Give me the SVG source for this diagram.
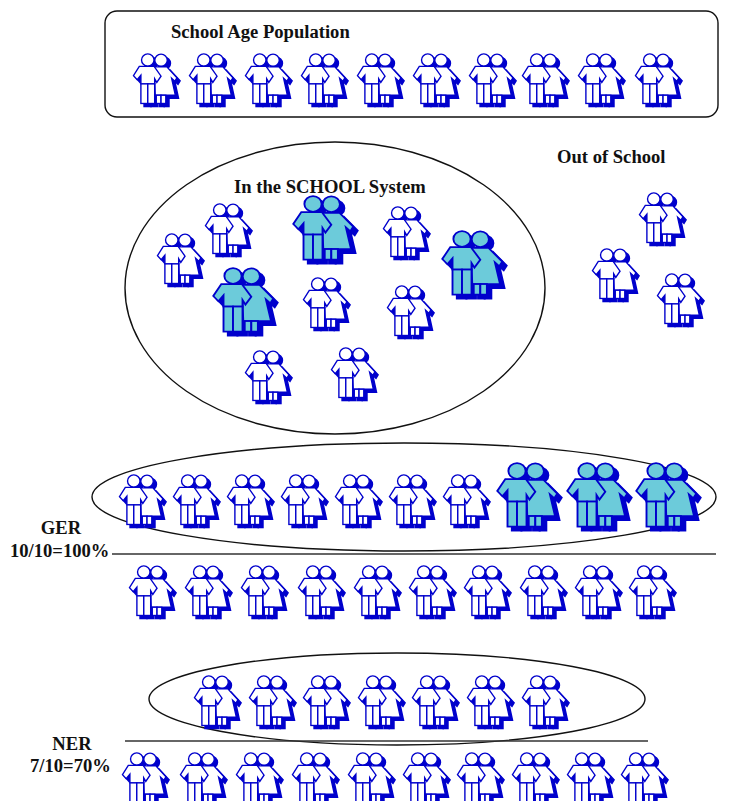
<svg xmlns="http://www.w3.org/2000/svg" xmlns:xlink="http://www.w3.org/1999/xlink" width="736" height="801" viewBox="0 0 736 801">
  <style>
    .lbl { font-family: "Liberation Serif", "Times New Roman", serif; font-weight: bold; font-size: 18.6px; fill: #111; }
    .frame { fill: none; stroke: #111; stroke-width: 1.4; }
    .rule { stroke: #333; stroke-width: 1.6; }
    .sh { fill: #0000cc; stroke: #0000cc; stroke-width: 1.4; }
    .w { fill: #ffffff; stroke: #0000cc; stroke-width: 1.3; }
    .c { fill: #6ccbda; stroke: #0000cc; stroke-width: 1.3; }
  </style>
  <defs>
    <!-- couple pictogram: girl behind, boy in front -->
    <g id="fig">
      <circle cx="25.5" cy="7" r="5.9"/>
      <path d="M19,13.5 L31,13.5 L40.5,24 L38.5,27.5 L35.5,24.5 L39,41 L20,41 Z"/>
      <rect x="21" y="41" width="4.5" height="8"/>
      <rect x="25.5" y="41" width="4.5" height="8"/>
      <circle cx="13" cy="6.8" r="5.9"/>
      <path d="M5,13 L19,13 L25.5,22.5 L21.5,28.5 L19.5,25 L19.5,30 L6.5,30 L6.5,21.5 L3,26 L-0.5,22 Z"/>
      <rect x="6.5" y="30" width="6.5" height="19"/>
      <rect x="13" y="30" width="6.5" height="19"/>
    </g>
    <g id="pw" transform="scale(1.06,1.03)">
      <use xlink:href="#fig" href="#fig" class="sh" transform="translate(3,3)"/>
      <use xlink:href="#fig" href="#fig" class="w"/>
    </g>
    <g id="pc" transform="scale(1.06,1.03)">
      <use xlink:href="#fig" href="#fig" class="sh" transform="translate(3,3)"/>
      <use xlink:href="#fig" href="#fig" class="c"/>
    </g>
  </defs>

  <!-- whole school-age population -->
  <g id="population">
    <rect class="frame" x="105" y="11" width="613" height="106" rx="12"/>
    <text class="lbl" x="171" y="38">School Age Population</text>
    <use href="#pw" x="134" y="53"/>
    <use href="#pw" x="190" y="53"/>
    <use href="#pw" x="246" y="53"/>
    <use href="#pw" x="302" y="53"/>
    <use href="#pw" x="358" y="53"/>
    <use href="#pw" x="414" y="53"/>
    <use href="#pw" x="470" y="53"/>
    <use href="#pw" x="523" y="53"/>
    <use href="#pw" x="579" y="53"/>
    <use href="#pw" x="636" y="53"/>
  </g>

  <!-- children enrolled -->
  <g id="in-school">
    <ellipse class="frame" cx="335" cy="288" rx="210" ry="146"/>
    <text class="lbl" x="234" y="193">In the SCHOOL System</text>
    <use href="#pw" x="158" y="233"/>
    <use href="#pw" x="206" y="203"/>
    <use href="#pw" x="384" y="206"/>
    <use href="#pw" x="304" y="277"/>
    <use href="#pw" x="388" y="285"/>
    <use href="#pw" x="246" y="350"/>
    <use href="#pw" x="332" y="347"/>
    <use href="#pc" transform="translate(294,195) scale(1.38,1.28)"/>
    <use href="#pc" transform="translate(443,230) scale(1.38,1.28)"/>
    <use href="#pc" transform="translate(214,267) scale(1.38,1.28)"/>
  </g>

  <!-- children not enrolled -->
  <g id="out-of-school">
    <text class="lbl" x="557" y="163">Out of School</text>
    <use href="#pw" x="640" y="192"/>
    <use href="#pw" x="593" y="248"/>
    <use href="#pw" x="658" y="273"/>
  </g>

  <!-- gross enrolment ratio -->
  <g id="ger">
    <ellipse class="frame" cx="404" cy="497" rx="312" ry="54"/>
    <use href="#pw" x="120" y="474"/>
    <use href="#pw" x="174" y="474"/>
    <use href="#pw" x="228" y="474"/>
    <use href="#pw" x="282" y="474"/>
    <use href="#pw" x="336" y="474"/>
    <use href="#pw" x="390" y="474"/>
    <use href="#pw" x="444" y="474"/>
    <use href="#pc" transform="translate(498,462) scale(1.38,1.28)"/>
    <use href="#pc" transform="translate(568,462) scale(1.38,1.28)"/>
    <use href="#pc" transform="translate(637,462) scale(1.38,1.28)"/>
    <text class="lbl" x="61" y="534" text-anchor="middle">GER</text>
    <text class="lbl" x="10" y="557">10/10=100%</text>
    <line class="rule" x1="112" y1="554" x2="716" y2="554"/>
    <use href="#pw" x="130" y="565"/>
    <use href="#pw" x="186" y="565"/>
    <use href="#pw" x="242" y="565"/>
    <use href="#pw" x="299" y="565"/>
    <use href="#pw" x="355" y="565"/>
    <use href="#pw" x="410" y="565"/>
    <use href="#pw" x="465" y="565"/>
    <use href="#pw" x="521" y="565"/>
    <use href="#pw" x="576" y="565"/>
    <use href="#pw" x="630" y="565"/>
  </g>

  <!-- net enrolment ratio -->
  <g id="ner">
    <ellipse class="frame" cx="397" cy="699" rx="248" ry="46"/>
    <use href="#pw" x="195" y="675"/>
    <use href="#pw" x="250" y="675"/>
    <use href="#pw" x="304" y="675"/>
    <use href="#pw" x="359" y="675"/>
    <use href="#pw" x="413" y="675"/>
    <use href="#pw" x="468" y="675"/>
    <use href="#pw" x="523" y="675"/>
    <text class="lbl" x="72" y="750" text-anchor="middle">NER</text>
    <text class="lbl" x="30" y="772">7/10=70%</text>
    <line class="rule" x1="125" y1="741" x2="648" y2="741"/>
    <use href="#pw" x="123" y="752"/>
    <use href="#pw" x="181" y="752"/>
    <use href="#pw" x="237" y="752"/>
    <use href="#pw" x="293" y="752"/>
    <use href="#pw" x="349" y="752"/>
    <use href="#pw" x="404" y="752"/>
    <use href="#pw" x="458" y="752"/>
    <use href="#pw" x="513" y="752"/>
    <use href="#pw" x="568" y="752"/>
    <use href="#pw" x="622" y="752"/>
  </g>
</svg>
